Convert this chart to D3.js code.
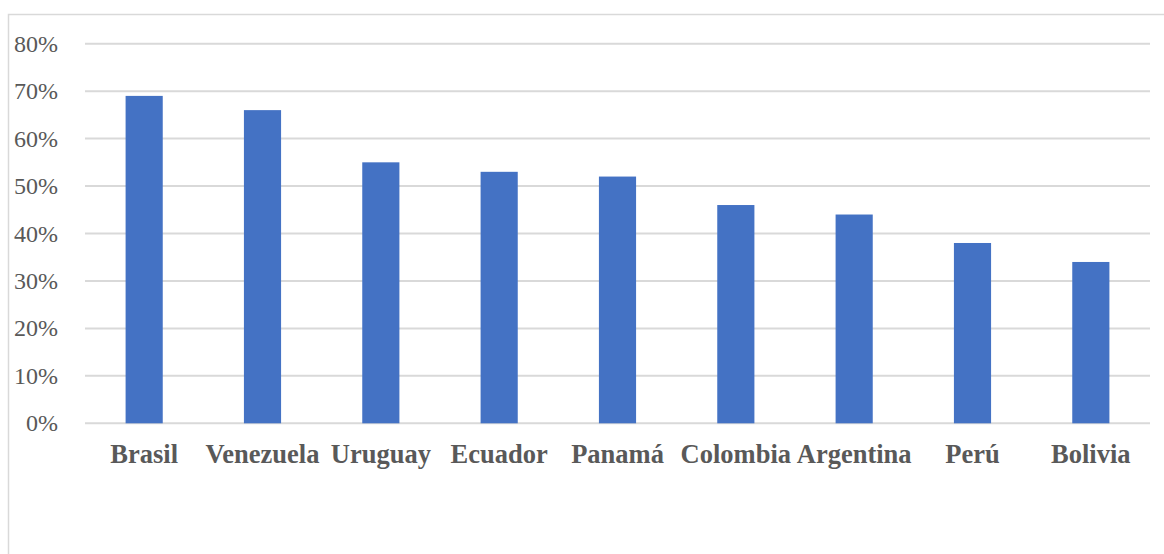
<!DOCTYPE html>
<html>
<head>
<meta charset="utf-8">
<script src="https://cdn.jsdelivr.net/npm/d3@7"></script>
<style>
  body { margin: 0; background: #fff; }
  svg { display: block; }
  .tick-label { font-family: "Liberation Serif", "Times New Roman", serif; font-size: 24px; fill: #595959; }
  .cat-label { font-family: "Liberation Serif", "Times New Roman", serif; font-size: 26.5px; font-weight: bold; fill: #595959; }
</style>
</head>
<body>
<div id="chart"></div>
<script>
// data
var countries = ["Brasil", "Venezuela", "Uruguay", "Ecuador", "Panamá", "Colombia", "Argentina", "Perú", "Bolivia"];
var shares = [0.69, 0.66, 0.55, 0.53, 0.52, 0.46, 0.44, 0.38, 0.34];
var yTicks = [0, 0.1, 0.2, 0.3, 0.4, 0.5, 0.6, 0.7, 0.8];

var width = 1164, height = 554;
var plot = { left: 85, right: 1150, top: 43.7, bottom: 423.3 };

var svg = d3.select('#chart')
  .append('svg')
    .attr('width', width)
    .attr('height', height);

// outer frame
svg.append('rect')
  .attr('x', 8.5)
  .attr('y', 14.5)
  .attr('width', 1160)
  .attr('height', 560)
  .attr('fill', 'none')
  .attr('stroke', '#d9d9d9')
  .attr('stroke-width', 1.5);

var x = d3.scaleBand()
  .domain(countries)
  .range([plot.left, plot.right])
  .paddingInner(0.686)
  .paddingOuter(0.343);

var y = d3.scaleLinear()
  .domain([0, 0.8])
  .range([plot.bottom, plot.top]);

// gridlines
svg.append('g')
  .selectAll('line')
  .data(yTicks)
  .join('line')
    .attr('x1', plot.left)
    .attr('x2', plot.right)
    .attr('y1', d => y(d))
    .attr('y2', d => y(d))
    .attr('stroke', '#d9d9d9')
    .attr('stroke-width', 2);

// y labels
svg.append('g')
  .selectAll('text')
  .data(yTicks)
  .join('text')
    .attr('class', 'tick-label')
    .attr('x', 58)
    .attr('y', d => y(d) + 8)
    .attr('text-anchor', 'end')
    .text(d => d3.format('.0%')(d));

// bars
svg.append('g')
  .selectAll('rect')
  .data(countries)
  .join('rect')
    .attr('x', d => x(d))
    .attr('y', (d, i) => y(shares[i]))
    .attr('width', x.bandwidth())
    .attr('height', (d, i) => y(0) - y(shares[i]))
    .attr('fill', '#4472c4');

// category labels
svg.append('g')
  .selectAll('text')
  .data(countries)
  .join('text')
    .attr('class', 'cat-label')
    .attr('x', d => x(d) + x.bandwidth() / 2)
    .attr('y', 463)
    .attr('text-anchor', 'middle')
    .text(d => d);
</script>
</body>
</html>
